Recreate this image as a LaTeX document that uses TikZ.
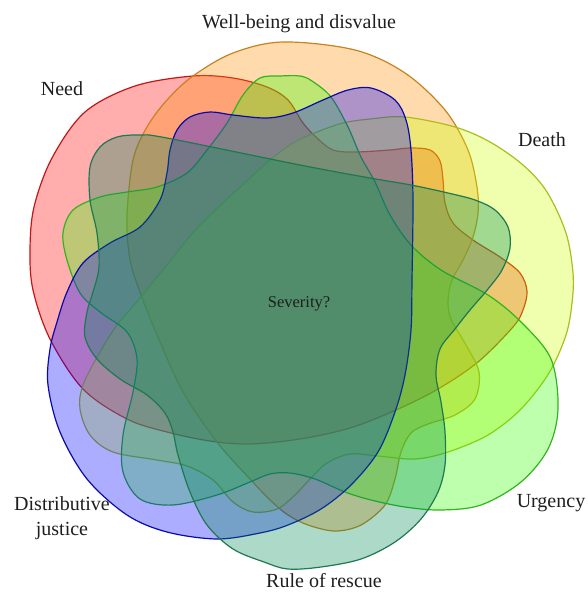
\documentclass[tikz,border=0pt]{standalone}
\usepackage{fontspec}
\setmainfont{Liberation Serif}
\definecolor{needfill}{RGB}{255,0,0}
\definecolor{needline}{RGB}{200,20,20}
\definecolor{wellfill}{RGB}{255,140,0}
\definecolor{wellline}{RGB}{200,130,30}
\definecolor{deathfill}{RGB}{204,255,0}
\definecolor{deathline}{RGB}{170,190,30}
\definecolor{urgfill}{RGB}{51,255,0}
\definecolor{urgline}{RGB}{50,180,30}
\definecolor{distfill}{RGB}{0,0,255}
\definecolor{distline}{RGB}{10,10,170}
\definecolor{rescfill}{RGB}{0,136,85}
\definecolor{rescline}{RGB}{30,120,80}
\definecolor{labeltext}{RGB}{30,30,30}
\tikzset{
  setshape/.style={line width=1.2pt, fill opacity=0.32, draw opacity=1},
  lbl/.style={font=\fontsize{20}{24}\selectfont, text=labeltext, anchor=base, inner sep=0pt},
}
\begin{document}
\begin{tikzpicture}[x=1pt,y=-1pt]
\useasboundingbox (0,0) rectangle (588,592);
% Need (red)
\draw[setshape, draw=needline, fill=needfill] plot[smooth cycle, tension=0.55] coordinates {
(193,76) (233,78) (267,87) (288,100) (303,123) (317,138) (333,150) (355,152) (390,150) (410,148) (430,150) (440,161) (443,180) (445,203) (453,223) (473,240) (500,257) (520,273) (527,291) (523,310) (513,327) (478,362) (438,389) (396,410) (350,428) (300,439) (250,444) (210,441) (167,432) (127,419) (83,389) (50,339) (33,290) (30,250) (34,207) (52,158) (85,112) (135,86)};
% Well-being and disvalue (orange)
\draw[setshape, draw=wellline, fill=wellfill] plot[smooth cycle, tension=0.55] coordinates {
(147,127) (167,100) (193,76) (233,53) (283,42) (355,50) (405,73) (445,110) (468,150) (477,187) (478,213) (473,237) (463,260) (452,280) (448,300) (451,319) (466,345) (479,372) (475,399) (455,415) (428,424) (411,433) (401,452) (395,479) (385,505) (361,525) (335,531) (308,525) (288,515) (270,500) (250,479) (217,442) (183,392) (157,335) (141,295) (130,260) (127,217) (133,160)};
% Death (yellow-green)
\draw[setshape, draw=deathline, fill=deathfill] plot[smooth cycle, tension=0.55] coordinates {
(200,225) (250,178) (270,160) (293,143) (317,132) (343,123) (370,119) (405,117) (455,127) (490,142) (523,165) (547,192) (566,233) (573,273) (572,303) (566,335) (549,373) (521,409) (488,435) (448,452) (415,459) (378,456) (350,454) (327,463) (310,479) (295,495) (277,509) (253,512) (233,502) (213,480) (187,466) (157,460) (113,452) (90,435) (80,409) (83,385) (100,352) (117,325) (140,298) (167,265)};
% Urgency (green)
\draw[setshape, draw=urgline, fill=urgfill] plot[smooth cycle, tension=0.55] coordinates {
(260,78) (280,76) (300,76) (312,81) (331,97) (348,127) (361,157) (375,182) (390,215) (411,245) (441,270) (488,295) (521,322) (551,359) (558,409) (548,449) (521,482) (481,505) (441,510) (405,507) (371,500) (345,492) (315,479) (290,473) (270,474) (250,482) (217,495) (173,505) (140,499) (123,472) (123,435) (133,392) (137,359) (127,332) (100,312) (80,293) (67,260) (63,233) (73,210) (100,197) (127,192) (157,187) (187,173) (207,150) (227,123) (243,95)};
% Distributive justice (blue)
\draw[setshape, draw=distline, fill=distfill] plot[smooth cycle, tension=0.55] coordinates {
(190,117) (210,112) (233,115) (267,118) (293,113) (323,100) (348,90) (371,88) (395,100) (406,120) (411,150) (413,200) (412,280) (411,330) (405,375) (395,412) (378,452) (351,485) (321,509) (288,525) (260,533) (217,539) (167,532) (127,515) (87,479) (60,432) (48,385) (50,349) (57,322) (67,292) (83,263) (110,243) (140,227) (160,200) (167,173) (170,150) (177,130)};
% Rule of rescue (teal)
\draw[setshape, draw=rescline, fill=rescfill] plot[smooth cycle, tension=0.55] coordinates {
(100,147) (117,137) (140,135) (167,138) (300,165) (370,178) (411,185) (448,193) (475,200) (495,210) (508,227) (510,248) (502,270) (488,289) (470,310) (455,329) (440,349) (436,375) (441,402) (445,432) (445,465) (438,492) (421,519) (395,542) (361,559) (321,567) (288,569) (264,562) (233,549) (207,525) (190,492) (178,455) (173,432) (165,413) (147,395) (120,379) (97,359) (85,337) (87,312) (93,292) (99,267) (97,233) (90,200) (90,167)};
% Labels
\node[lbl] (well) at (299,28) {Well-being and disvalue};
\node[lbl] (need) at (62,95) {Need};
\node[lbl] (death) at (542,146) {Death};
\node[lbl] (urg) at (551,507) {Urgency};
\node[lbl] (resc) at (324,587) {Rule of rescue};
\node[lbl] (dist1) at (62,510) {Distributive};
\node[lbl] (dist2) at (62,535) {justice};
\node[lbl, font=\fontsize{16.5}{20}\selectfont] (sev) at (299,307) {Severity?};
\end{tikzpicture}
\end{document}
